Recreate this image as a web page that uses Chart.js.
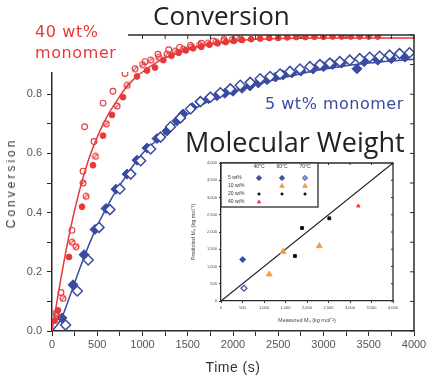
<!DOCTYPE html>
<html>
<head>
<meta charset="utf-8">
<script src="https://cdn.jsdelivr.net/npm/chart.js@4.4.1/dist/chart.umd.min.js"></script>
<style>
   body { margin: 0; background: #fff; width: 433px; height: 380px; position: relative; overflow: hidden; }
   #main { position: absolute; left: 0; top: 0; }
   #inset { position: absolute; left: 188px; top: 155px; }
   .txt { position: absolute; white-space: nowrap; }
   #redBox { position: absolute; left: 0; top: 0; width: 128px; height: 72px; background: #fff; }
</style>
</head>
<body>
<canvas id="main" width="433" height="380"></canvas>
<canvas id="inset" width="217" height="175"></canvas>

<div id="redBox">
   <div class="txt" style="left:35px;top:21px;font:16px 'DejaVu Sans';line-height:21px;letter-spacing:.6px;color:#e8393a">40 wt%<br>monomer</div>
</div>
<div class="txt" style="left:153px;top:2px;font:26px 'Open Sans';line-height:26px;color:#222">Conversion</div>
<div class="txt" style="left:185px;top:128px;font:27px 'Open Sans';line-height:27px;color:#222">Molecular Weight</div>
<div class="txt" style="left:265px;top:96px;font:16px 'DejaVu Sans';line-height:16px;letter-spacing:.5px;color:#3a4ba0">5 wt% monomer</div>
<div class="txt" style="left:11px;top:183px;font:12px 'Liberation Sans';letter-spacing:3px;color:#333;transform:translate(-50%,-50%) rotate(-90deg)">Conversion</div>
<div class="txt" style="left:233px;top:360px;font:14px 'Liberation Sans';line-height:14px;letter-spacing:.5px;color:#333;transform:translateX(-50%)">Time (s)</div>

<script>
// ---- main plot: conversion vs time ----
// 40 wt% monomer
const redFilledT = [30, 66, 188, 332, 453, 564, 663, 785, 939, 1050, 1138, 1230, 1320, 1400, 1480, 1560, 1650, 1740, 1830, 1920, 2010, 2100, 2200, 2300, 2400, 2500, 2600, 2700, 2800, 2900, 3000, 3100, 3200, 3300, 3400, 3500, 3600];
const redFilledC = [0.035, 0.07, 0.25, 0.42, 0.56, 0.66, 0.73, 0.79, 0.86, 0.88, 0.89, 0.915, 0.93, 0.94, 0.948, 0.955, 0.96, 0.967, 0.972, 0.976, 0.98, 0.983, 0.986, 0.988, 0.99, 0.99, 0.992, 0.993, 0.993, 0.994, 0.994, 0.995, 0.995, 0.995, 0.995, 0.995, 0.995];
const redOpenT = [45, 99, 221, 343, 360, 464, 564, 674, 807, 1028, 1171, 1290, 1410, 1530, 1650, 1780, 1900, 2040];
const redOpenC = [0.06, 0.13, 0.34, 0.54, 0.69, 0.64, 0.77, 0.81, 0.87, 0.91, 0.935, 0.95, 0.958, 0.965, 0.972, 0.98, 0.985, 0.99];
const redHalfT = [55, 122, 221, 265, 343, 376, 480, 600, 720, 830, 917, 1000, 1090, 1180, 1270, 1360, 1450, 1540, 1630, 1720, 1810, 1900, 1990, 2080];
const redHalfC = [0.05, 0.11, 0.3, 0.285, 0.5, 0.455, 0.59, 0.7, 0.76, 0.83, 0.886, 0.9, 0.915, 0.925, 0.935, 0.945, 0.952, 0.96, 0.966, 0.972, 0.977, 0.98, 0.984, 0.988];
const redFitT = [0, 100, 200, 300, 400, 500, 600, 700, 800, 900, 1000, 1200, 1400, 1600, 1800, 2000, 2500, 3000, 3500, 4000];
const redFitC = [0, 0.18, 0.34, 0.47, 0.575, 0.655, 0.72, 0.77, 0.815, 0.85, 0.875, 0.915, 0.94, 0.96, 0.972, 0.98, 0.988, 0.99, 0.99, 0.99];

// 5 wt% monomer
const blueFilledT = [110, 232, 354, 475, 597, 707, 829, 939, 1050, 1160, 1271, 1380, 1448, 1550, 1635, 1730, 1823, 1910, 2000, 2100, 2188, 2280, 2376, 2470, 2553, 2650, 2750, 2884, 3000, 3100, 3200, 3370, 3450, 3600, 3750, 3900];
const blueFilledC = [0.044, 0.156, 0.258, 0.343, 0.414, 0.479, 0.53, 0.577, 0.618, 0.65, 0.676, 0.71, 0.733, 0.755, 0.774, 0.785, 0.795, 0.803, 0.81, 0.82, 0.828, 0.838, 0.849, 0.858, 0.865, 0.872, 0.878, 0.885, 0.893, 0.9, 0.905, 0.886, 0.91, 0.915, 0.92, 0.925];
const blueOpenT = [150, 280, 400, 520, 640, 750, 870, 980, 1090, 1200, 1310, 1420, 1530, 1640, 1750, 1860, 1970, 2080, 2190, 2300, 2410, 2520, 2630, 2740, 2850, 2960, 3070, 3180, 3290, 3400, 3510, 3620, 3730, 3840, 3950];
const blueOpenC = [0.02, 0.135, 0.24, 0.35, 0.41, 0.48, 0.53, 0.575, 0.615, 0.655, 0.69, 0.72, 0.75, 0.775, 0.79, 0.805, 0.818, 0.83, 0.84, 0.852, 0.86, 0.868, 0.877, 0.885, 0.893, 0.9, 0.905, 0.91, 0.915, 0.92, 0.925, 0.928, 0.932, 0.937, 0.94];
const blueFitT = [0, 100, 200, 300, 400, 500, 600, 700, 800, 900, 1000, 1200, 1400, 1600, 1800, 2000, 2250, 2500, 2750, 3000, 3250, 3500, 3750, 4000];
const blueFitC = [0, 0.04, 0.12, 0.205, 0.285, 0.355, 0.415, 0.47, 0.515, 0.56, 0.6, 0.655, 0.71, 0.755, 0.785, 0.808, 0.832, 0.852, 0.869, 0.884, 0.896, 0.905, 0.912, 0.918];

// ---- inset: predicted vs measured Mn ----
const insetRows = ['5 wt%', '10 wt%', '20 wt%', '40 wt%'];
const insetTemps = ['40°C', '60°C', '70°C'];
const blueFilledMeas = [505], blueFilledPred = [1200];
const blueOpenMeas = [535], blueOpenPred = [370];
const orangeMeas = [1123, 1442, 2286], orangePred = [774, 1430, 1594];
const blackMeas = [1720, 1884, 2519], blackPred = [1304, 2116, 2397];
const redMeas = [3193], redPred = [2754];
const parityX = [0, 4000], parityY = [0, 4000];

const RED = '#e8393a';
const BLUE = '#3a4ba0';
const ORANGE = '#f2a03c';
const AXIS = '#2b2b2b';

Chart.defaults.font.family = "'Liberation Sans', Arial, sans-serif";

const pts = (xs, ys) => xs.map((v, i) => ({ x: v, y: ys[i] }));

function slashCircle(color) {
   const c = document.createElement('canvas');
   c.width = 8; c.height = 8;
   const g = c.getContext('2d');
   g.strokeStyle = color;
   g.lineWidth = 1.2;
   g.beginPath(); g.arc(4, 4, 2.9, 0, Math.PI * 2); g.stroke();
   g.beginPath(); g.moveTo(1.8, 6.2); g.lineTo(6.2, 1.8); g.stroke();
   return c;
}

// top and right axes with inward ticks
const frame = {
   id: 'frame',
   afterDraw(chart, args, o) {
      const { ctx, chartArea: a, scales: { x, y } } = chart;
      const from = o.topFrom || a.left;
      ctx.save();
      ctx.strokeStyle = AXIS;
      ctx.lineWidth = o.width;
      ctx.beginPath();
      ctx.moveTo(from, a.top);
      ctx.lineTo(a.right, a.top);
      ctx.lineTo(a.right, a.bottom);
      ctx.stroke();
      ctx.lineWidth = 1;
      ctx.beginPath();
      x.ticks.forEach(t => {
         const px = x.getPixelForValue(t.value);
         if (px < from) return;
         ctx.moveTo(px, a.top); ctx.lineTo(px, a.top + o.len);
      });
      y.ticks.forEach(t => {
         const py = y.getPixelForValue(t.value);
         ctx.moveTo(a.right, py); ctx.lineTo(a.right - o.len, py);
      });
      ctx.stroke();
      ctx.restore();
   }
};

new Chart(document.getElementById('main'), {
   type: 'scatter',
   data: {
      datasets: [
         { data: pts(redOpenT, redOpenC), pointStyle: 'circle', pointRadius: 2.9, borderColor: RED, backgroundColor: 'rgba(255,255,255,0)', borderWidth: 1.1 },
         { data: pts(redHalfT, redHalfC), pointStyle: slashCircle(RED), pointRadius: 4 },
         { data: pts(redFilledT, redFilledC), pointStyle: 'circle', pointRadius: 2.9, borderColor: RED, backgroundColor: RED, borderWidth: 1 },
         { data: pts(blueOpenT, blueOpenC), pointStyle: 'rectRot', pointRadius: 5, borderColor: BLUE, backgroundColor: '#fff', borderWidth: 1.5 },
         { data: pts(blueFilledT, blueFilledC), pointStyle: 'rectRot', pointRadius: 5, borderColor: BLUE, backgroundColor: BLUE, borderWidth: 1 },
         { data: pts(redFitT, redFitC), showLine: true, pointRadius: 0, borderColor: RED, borderWidth: 1.5, cubicInterpolationMode: 'monotone', order: 5 },
         { data: pts(blueFitT, blueFitC), showLine: true, pointRadius: 0, borderColor: BLUE, borderWidth: 1.5, cubicInterpolationMode: 'monotone', order: 5 }
      ]
   },
   options: {
      responsive: false,
      animation: false,
      layout: { padding: { top: 35, right: 19 } },
      plugins: {
         legend: { display: false },
         tooltip: { enabled: false },
         frame: { width: 1.5, len: 4, topFrom: 128 }
      },
      scales: {
         x: {
            min: 0, max: 4000,
            afterFit: s => { s.height = 49; },
            border: { color: AXIS, width: 1.5 },
            grid: { drawOnChartArea: false, color: AXIS, tickLength: 5 },
            ticks: {
               stepSize: 250, autoSkip: false, maxRotation: 0, padding: 2,
               color: '#555', font: { size: 11 },
               callback: v => v % 500 === 0 ? String(v) : ''
            }
         },
         y: {
            min: 0, max: 1,
            afterFit: s => { s.width = 52; },
            border: { color: AXIS, width: 1.5 },
            grid: { drawOnChartArea: false, color: AXIS, tickLength: 5 },
            ticks: {
               stepSize: 0.1, autoSkip: false, padding: 5,
               color: '#555', font: { size: 11 },
               callback: v => {
                  const k = Math.round(v * 10);
                  return k % 2 === 0 && k < 10 ? (k / 10).toFixed(1) : '';
               }
            }
         }
      }
   },
   plugins: [frame]
});

// legend table inside the inset
const insetLegend = {
   id: 'insetLegend',
   afterDraw(chart) {
      const ctx = chart.ctx;
      const draw = Chart.helpers.drawPoint;
      ctx.save();
      ctx.strokeStyle = AXIS;
      ctx.lineWidth = 1.3;
      ctx.fillStyle = '#fff';
      ctx.fillRect(33, 8, 97, 44);
      ctx.strokeRect(33, 8, 97, 44);
      ctx.fillStyle = '#333';
      ctx.font = "5px 'Liberation Sans'";
      ctx.textBaseline = 'middle';
      ctx.textAlign = 'center';
      const cols = [71, 94, 117];
      const rows = [23, 31, 39, 47];
      insetTemps.forEach((t, i) => ctx.fillText(t, cols[i], 12));
      ctx.textAlign = 'left';
      insetRows.forEach((r, i) => ctx.fillText(r, 40, rows[i]));
      const sym = (style, r, fill, stroke, x, y) => {
         ctx.fillStyle = fill; ctx.strokeStyle = stroke; ctx.lineWidth = 1;
         draw(ctx, { pointStyle: style, radius: r, rotation: 0, borderWidth: 1 }, x, y);
      };
      sym('rectRot', 2.6, BLUE, BLUE, cols[0], rows[0]);
      sym('rectRot', 2.6, BLUE, BLUE, cols[1], rows[0]);
      sym('rectRot', 2.6, '#8fa0d8', BLUE, cols[2], rows[0]);
      sym('triangle', 2.6, ORANGE, ORANGE, cols[1], rows[1]);
      sym('triangle', 2.6, ORANGE, ORANGE, cols[2], rows[1]);
      cols.forEach(c => sym('rect', 1.3, '#111', '#111', c, rows[2]));
      sym('triangle', 1.8, RED, RED, cols[0], rows[3]);
      ctx.restore();
   }
};

new Chart(document.getElementById('inset'), {
   type: 'scatter',
   data: {
      datasets: [
         { data: pts(blueFilledMeas, blueFilledPred), pointStyle: 'rectRot', pointRadius: 3, backgroundColor: BLUE, borderColor: BLUE },
         { data: pts(blueOpenMeas, blueOpenPred), pointStyle: 'rectRot', pointRadius: 3, backgroundColor: '#fff', borderColor: BLUE, borderWidth: 1.2 },
         { data: pts(orangeMeas, orangePred), pointStyle: 'triangle', pointRadius: 3.3, backgroundColor: ORANGE, borderColor: ORANGE },
         { data: pts(blackMeas, blackPred), pointStyle: 'rect', pointRadius: 2, backgroundColor: '#111', borderColor: '#111' },
         { data: pts(redMeas, redPred), pointStyle: 'triangle', pointRadius: 2, backgroundColor: RED, borderColor: RED },
         { data: pts(parityX, parityY), showLine: true, pointRadius: 0, borderColor: '#222', borderWidth: 1.2, order: 5 }
      ]
   },
   options: {
      responsive: false,
      animation: false,
      layout: { padding: { top: 8, right: 12 } },
      plugins: {
         legend: { display: false },
         tooltip: { enabled: false },
         frame: { width: 1.3, len: 2 }
      },
      scales: {
         x: {
            min: 0, max: 4000,
            afterFit: s => { s.height = 29; },
            border: { color: AXIS, width: 1.3 },
            grid: { drawOnChartArea: false, color: AXIS, tickLength: 2 },
            ticks: { stepSize: 500, autoSkip: false, maxRotation: 0, padding: 2, color: '#444', font: { size: 4 } },
            title: { display: true, text: 'Measured Mₙ (kg mol⁻¹)', color: '#444', font: { size: 5.5 }, padding: { top: 2, bottom: 6 } }
         },
         y: {
            min: 0, max: 4000,
            afterFit: s => { s.width = 33; },
            border: { color: AXIS, width: 1.3 },
            grid: { drawOnChartArea: false, color: AXIS, tickLength: 2 },
            ticks: { stepSize: 500, autoSkip: false, padding: 2, color: '#444', font: { size: 4 } },
            title: { display: true, text: 'Predicted Mₙ (kg mol⁻¹)', color: '#444', font: { size: 5.5 }, padding: { top: 2, bottom: 2 } }
         }
      }
   },
   plugins: [frame, insetLegend]
});
</script>
</body>
</html>
